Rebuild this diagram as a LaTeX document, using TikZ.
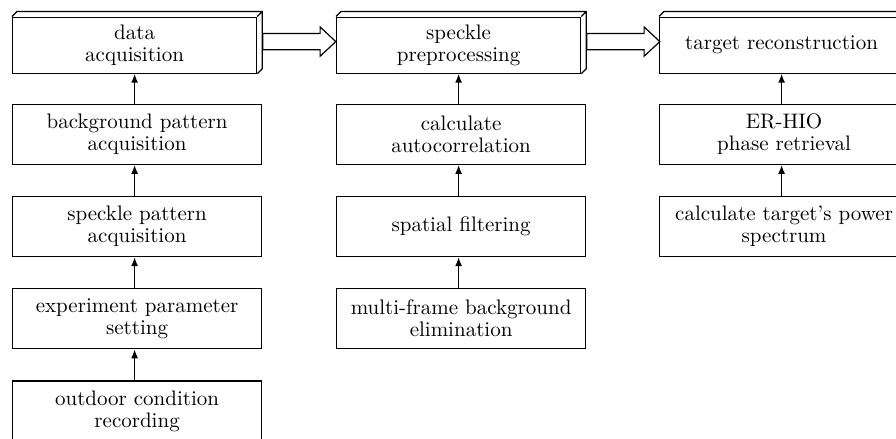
\documentclass[tikz,border=0pt]{standalone}
\usetikzlibrary{positioning,arrows.meta,shapes.arrows}

% the raised look of the three top boxes
\newcommand\slab[1]{%
  \draw[line width=0.6pt] (#1.north west) -- ++(5,-5) -| ([shift={(2.5pt,2.5pt)}]#1.south east)
       -- (#1.south east) (#1.north east) -- ++(5,-5);}

\begin{document}
\begin{tikzpicture}[x=0.5pt,y=-0.5pt,
   node distance=15.5pt,
   box/.style={draw, line width=0.6pt, minimum width=124.5pt, minimum height=30pt,
               inner sep=1pt, align=center, font=\fontsize{10.5}{11}\selectfont},
   top/.style={box, minimum width=122pt, minimum height=28pt, anchor=north west},
   up/.style={line width=0.75pt, -{Latex[length=4.5pt,width=3.5pt]}},
   fat/.style={draw, line width=0.6pt, single arrow, inner sep=0pt, inner ysep=3.75pt,
               minimum height=36.5pt, single arrow head extend=3.25pt,
               single arrow tip angle=86, anchor=tail}]

\useasboundingbox (0,0) rectangle (896,439);

% top row
\node[top] (data) at (12,16.5) {data\\acquisition};
\node[top] (pre)  at (336,16.5) {speckle\\preprocessing};
\node[top] (rec)  at (659,16.5) {target reconstruction};
\slab{data} \slab{pre} \slab{rec}

% first column
\node[box, below=15pt of data.south west, anchor=north west] (bg) {background pattern\\acquisition};
\node[box, below=of bg] (sp)  {speckle pattern\\acquisition};
\node[box, below=of sp] (par) {experiment parameter\\setting};
\node[box, below=of par] (out) {outdoor condition\\recording};

% second column
\node[box, below=15pt of pre.south west, anchor=north west] (auto) {calculate\\autocorrelation};
\node[box, below=of auto] (filt) {spatial filtering};
\node[box, below=of filt] (elim) {multi-frame background\\elimination};

% third column
\node[box, below=15pt of rec.south west, anchor=north west] (phase) {ER-HIO\\phase retrieval};
\node[box, below=of phase] (pow) {calculate target's power\\spectrum};

\draw[up] (bg.north -| data) -- (data.south);
\draw[up] (sp.north -| data) -- (bg.south -| data);
\draw[up] (par.north -| data) -- (sp.south -| data);
\draw[up] (out.north -| data) -- (par.south -| data);

\draw[up] (auto.north -| pre) -- (pre.south);
\draw[up] (filt.north -| pre) -- (auto.south -| pre);
\draw[up] (elim.north -| pre) -- (filt.south -| pre);

\draw[up] (phase.north -| rec) -- (rec.south);
\draw[up] (pow.north -| rec) -- (phase.south -| rec);

\node[fat] (a1) at ([xshift=2.5pt,yshift=1.75pt]data.east) {};
\node[fat] (a2) at ([xshift=2.5pt,yshift=1.75pt]pre.east) {};

\end{tikzpicture}
\end{document}
